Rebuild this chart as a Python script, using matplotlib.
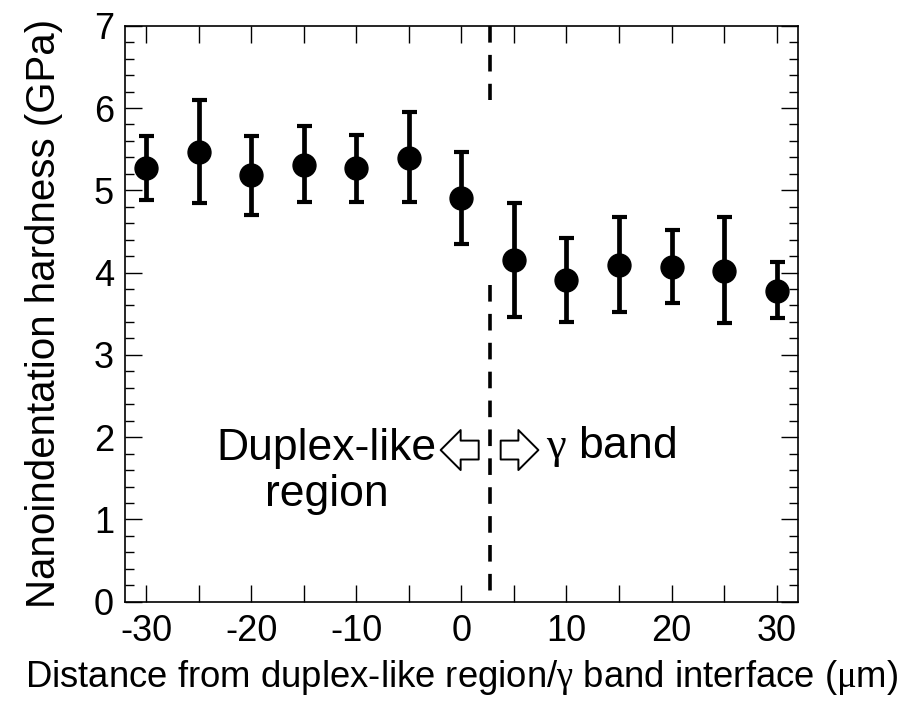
import matplotlib
matplotlib.use("Agg")
from matplotlib import pyplot as plt
from matplotlib.patches import FancyArrowPatch
from matplotlib.ticker import MultipleLocator

plt.rcParams['font.family'] = ['Liberation Sans', 'DejaVu Sans']
plt.rcParams['axes.unicode_minus'] = False
# greek letters in mathtext come out upright serif, like the Symbol font
plt.rcParams['mathtext.fontset'] = 'custom'
plt.rcParams['mathtext.rm'] = 'Liberation Serif'
plt.rcParams['mathtext.it'] = 'Liberation Serif'

distance = [-30, -25, -20, -15, -10, -5, 0, 5, 10, 15, 20, 25, 30]
hardness = [5.27, 5.47, 5.18, 5.31, 5.27, 5.39, 4.91, 4.15, 3.91, 4.09, 4.07, 4.02, 3.78]
err_top = [5.66, 6.10, 5.66, 5.78, 5.67, 5.95, 5.47, 4.85, 4.42, 4.67, 4.52, 4.67, 4.13]
err_bot = [4.88, 4.85, 4.70, 4.86, 4.86, 4.86, 4.35, 3.46, 3.40, 3.52, 3.63, 3.39, 3.45]

interface_x = 2.72

lo = [h - b for h, b in zip(hardness, err_bot)]
hi = [t - h for h, t in zip(hardness, err_top)]

fig = plt.figure(figsize=(9.08, 7.03), dpi=100)
ax = fig.add_axes([0.1377, 0.1441, 0.7408, 0.8193])

ax.errorbar(distance, hardness, yerr=[lo, hi], fmt='o', color='k',
            markersize=16.5, elinewidth=3.4, capsize=5.4, capthick=3, zorder=3)

# interface line, broken where the data sits (drawn top-down so dashes start full)
ax.plot([interface_x, interface_x], [7.0, 6.1], color='k', lw=2.6,
        dashes=(4.6, 3.4))
ax.plot([interface_x, interface_x], [3.85, 0], color='k', lw=2.6,
        dashes=(4.6, 3.4))

arr = 'simple,head_length=0.72,head_width=1.44,tail_width=0.68'
ax.add_patch(FancyArrowPatch((1.65, 1.843), (-1.97, 1.843), arrowstyle=arr,
                             mutation_scale=20, fc='white', ec='k', lw=1.4,
                             shrinkA=0, shrinkB=0))
ax.add_patch(FancyArrowPatch((3.74, 1.843), (7.33, 1.843), arrowstyle=arr,
                             mutation_scale=20, fc='white', ec='k', lw=1.4,
                             shrinkA=0, shrinkB=0))

ax.text(-12.8, 1.58, 'Duplex-like\nregion', ha='center', va='center',
        fontsize=32, linespacing=1.15)
ax.text(8.1, 1.89, r'$\gamma$ band', ha='left', va='center', fontsize=32)

ax.set_xlim(-32, 32)
ax.set_ylim(0, 7)
ax.xaxis.set_major_locator(MultipleLocator(10))
ax.xaxis.set_minor_locator(MultipleLocator(5))
ax.yaxis.set_major_locator(MultipleLocator(1))
ax.yaxis.set_minor_locator(MultipleLocator(0.2))

ax.tick_params(which='both', direction='in', top=True, right=True, width=1,
               labelsize=26)
ax.tick_params(axis='x', which='both', length=12, pad=9)
ax.tick_params(axis='y', which='major', length=12, pad=8)
ax.tick_params(axis='y', which='minor', length=6.5)
for s in ax.spines.values():
    s.set_linewidth(1.2)

ax.set_xlabel(r'Distance from duplex-like region/$\gamma$ band interface ($\mu$m)',
              fontsize=26.3, labelpad=6)
ax.set_ylabel('Nanoindentation hardness (GPa)', fontsize=29, labelpad=22)

fig.savefig('out.png', dpi=100)
